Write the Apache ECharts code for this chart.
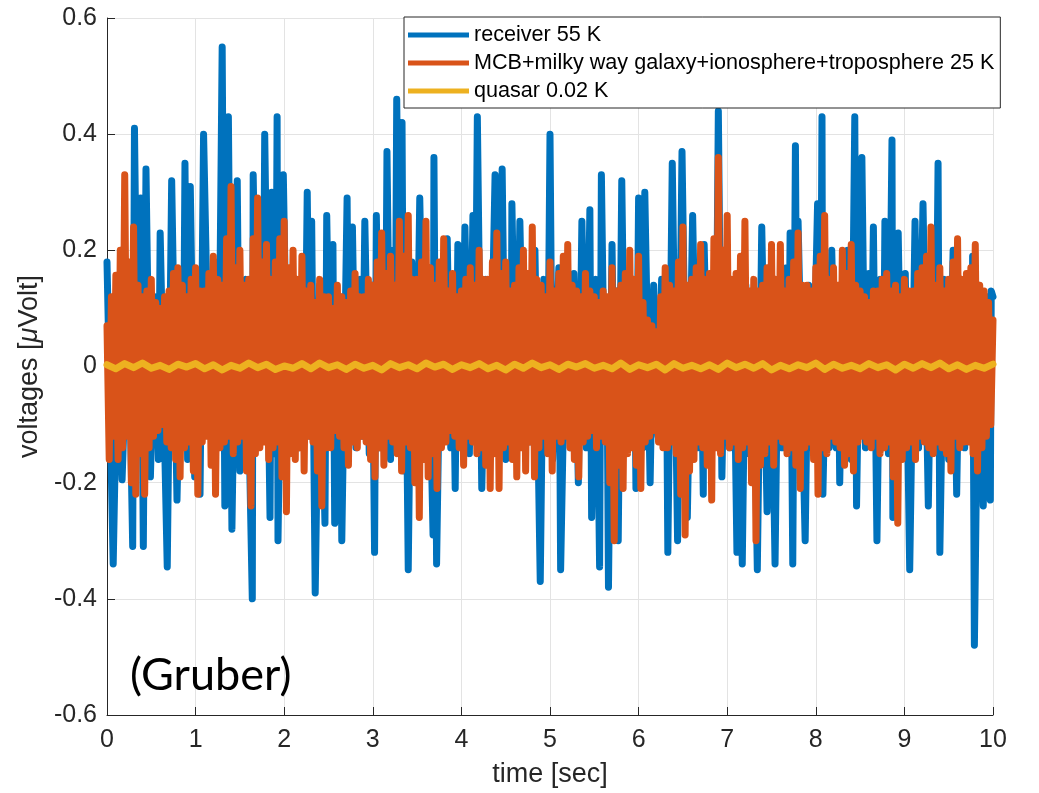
<!DOCTYPE html>
<html>
<head>
<meta charset="utf-8">
<script src="https://cdn.jsdelivr.net/npm/echarts@6/dist/echarts.min.js"></script>
<style>
html,body{margin:0;padding:0;background:#fff;}
#chart{width:1039px;height:793px;}
</style>
</head>
<body>
<div id="chart"></div>
<script>
// ---- data ----
const seriesNames = ['receiver 55 K', 'MCB+milky way galaxy+ionosphere+troposphere 25 K', 'quasar 0.02 K'];
const xTicks = [0,1,2,3,4,5,6,7,8,9,10];
const yTicks = [-0.6,-0.4,-0.2,0,0.2,0.4,0.6];

// receiver (blue): times [s] and voltages of the visible turning points
const blueT = [0.00,0.07,0.12,0.17,0.24,0.29,0.31,0.35,0.38,0.41,0.44,0.49,0.54,0.58,0.60,0.68,0.73,0.79,0.84,0.86,0.88,0.91,0.94,0.99,1.02,1.05,1.09,1.16,1.22,1.26,1.30,1.33,1.37,1.41,1.47,1.50,1.57,1.64,1.65,1.70,1.73,1.76,1.78,1.84,1.86,1.90,1.92,1.93,1.99,2.04,2.10,2.16,2.21,2.23,2.26,2.29,2.31,2.35,2.40,2.46,2.48,2.52,2.55,2.57,2.63,2.65,2.71,2.73,2.77,2.81,2.86,2.88,2.91,2.96,2.99,3.02,3.04,3.08,3.12,3.14,3.16,3.20,3.23,3.25,3.27,3.31,3.33,3.35,3.37,3.40,3.44,3.49,3.53,3.58,3.62,3.68,3.69,3.72,3.77,3.80,3.84,3.88,3.90,3.93,3.96,4.00,4.04,4.09,4.13,4.15,4.18,4.23,4.28,4.32,4.38,4.41,4.46,4.50,4.54,4.56,4.57,4.62,4.66,4.71,4.74,4.77,4.83,4.89,4.93,4.97,5.00,5.03,5.10,5.12,5.18,5.23,5.27,5.32,5.36,5.41,5.45,5.47,5.52,5.56,5.58,5.62,5.64,5.66,5.70,5.73,5.75,5.77,5.81,5.85,5.88,5.92,5.95,5.97,6.00,6.05,6.07,6.13,6.17,6.22,6.26,6.29,6.31,6.33,6.38,6.44,6.49,6.55,6.61,6.66,6.70,6.73,6.74,6.79,6.83,6.87,6.90,6.94,6.98,7.03,7.07,7.11,7.14,7.17,7.21,7.25,7.29,7.34,7.39,7.45,7.49,7.54,7.58,7.62,7.67,7.69,7.71,7.74,7.77,7.79,7.80,7.88,7.92,7.96,8.02,8.05,8.07,8.08,8.13,8.15,8.18,8.23,8.25,8.27,8.31,8.34,8.36,8.40,8.44,8.46,8.52,8.56,8.60,8.62,8.65,8.69,8.73,8.76,8.78,8.82,8.86,8.87,8.93,8.97,9.01,9.06,9.12,9.16,9.21,9.27,9.31,9.35,9.38,9.40,9.45,9.50,9.55,9.59,9.63,9.68,9.73,9.76,9.77,9.79,9.84,9.89,9.93,9.97,9.98,10.00];
const blueV = [0.18,-0.34,0.06,-0.195,0.12,-0.31,0.41,-0.10,0.29,-0.31,0.34,-0.19,0.12,-0.16,0.23,-0.345,0.32,-0.23,0.14,-0.10,0.35,-0.16,0.31,-0.19,0.10,-0.22,0.40,-0.12,0.18,-0.10,0.55,-0.24,0.43,-0.28,0.32,-0.18,0.15,-0.40,0.33,-0.14,0.22,-0.10,0.40,-0.26,0.30,-0.15,0.43,-0.30,0.33,-0.12,0.15,-0.14,0.12,-0.10,0.30,-0.12,0.25,-0.39,0.14,-0.27,0.26,-0.12,0.21,-0.27,0.12,-0.30,0.29,-0.12,0.24,-0.14,0.15,-0.12,0.25,-0.15,0.14,-0.32,0.26,-0.14,0.16,-0.10,0.37,-0.16,0.20,-0.12,0.46,-0.15,0.42,-0.18,0.10,-0.35,0.18,-0.14,0.29,-0.12,0.15,-0.29,0.36,-0.34,0.16,-0.12,0.22,-0.14,0.12,-0.21,0.21,-0.12,0.24,-0.15,0.26,-0.12,0.43,-0.21,0.15,-0.14,0.33,-0.12,0.34,-0.16,0.14,-0.10,0.28,-0.15,0.25,-0.14,0.15,-0.13,0.20,-0.37,0.15,-0.14,0.40,-0.16,0.17,-0.35,0.14,-0.14,0.16,-0.20,0.25,-0.14,0.27,-0.26,0.15,-0.345,0.33,-0.12,0.10,-0.38,0.21,-0.14,0.13,-0.30,0.32,-0.14,0.15,-0.12,0.14,-0.21,0.29,-0.14,0.30,-0.20,0.14,-0.12,0.15,-0.10,0.12,-0.32,0.35,-0.30,0.37,-0.26,0.26,-0.14,0.12,-0.22,0.21,-0.14,0.14,-0.12,0.44,-0.19,0.13,-0.14,0.11,-0.32,0.12,-0.34,0.14,-0.15,0.13,-0.35,0.24,-0.25,0.14,-0.34,0.14,-0.14,0.17,-0.12,0.23,-0.34,0.38,-0.12,0.25,-0.30,0.14,-0.14,0.28,-0.12,0.43,-0.22,0.15,-0.14,0.20,-0.14,0.12,-0.20,0.15,-0.14,0.20,-0.16,0.43,-0.24,0.36,-0.14,0.16,-0.12,0.24,-0.30,0.15,-0.14,0.25,-0.15,0.39,-0.26,0.23,-0.14,0.16,-0.35,0.25,-0.14,0.28,-0.24,0.16,-0.14,0.35,-0.32,0.15,-0.16,0.20,-0.22,0.15,-0.14,0.14,-0.12,0.19,-0.48,0.14,-0.24,0.12,-0.23,0.13,0.12];

// MCB + galaxy + ionosphere + troposphere (orange)
// upper turning points every 0.05 s (t = 0, 0.05, ... 10) and lower ones in between (t = 0.025, 0.075, ...)
const orangeStep = 0.05;
const orangeUp = [0.07,0.12,0.157,0.20,0.33,0.18,0.24,0.14,0.12,0.13,0.15,0.11,0.10,0.12,0.13,0.16,0.17,0.14,0.12,0.15,0.17,0.13,0.13,0.16,0.19,0.15,0.14,0.22,0.31,0.17,0.20,0.14,0.15,0.22,0.29,0.18,0.21,0.15,0.18,0.22,0.25,0.17,0.20,0.15,0.19,0.13,0.14,0.11,0.15,0.12,0.12,0.10,0.14,0.12,0.11,0.13,0.16,0.12,0.12,0.15,0.14,0.18,0.23,0.16,0.19,0.14,0.25,0.19,0.26,0.15,0.15,0.18,0.25,0.17,0.14,0.18,0.22,0.13,0.16,0.12,0.13,0.15,0.17,0.14,0.20,0.15,0.15,0.18,0.23,0.16,0.18,0.13,0.14,0.17,0.20,0.16,0.24,0.15,0.14,0.12,0.18,0.13,0.16,0.19,0.21,0.14,0.13,0.12,0.16,0.13,0.12,0.11,0.13,0.12,0.17,0.13,0.14,0.16,0.20,0.15,0.19,0.11,0.08,0.07,0.06,0.12,0.17,0.14,0.13,0.18,0.24,0.14,0.15,0.17,0.21,0.15,0.16,0.22,0.36,0.20,0.26,0.15,0.16,0.19,0.25,0.13,0.15,0.13,0.14,0.17,0.21,0.15,0.21,0.13,0.15,0.18,0.23,0.14,0.14,0.13,0.17,0.19,0.26,0.15,0.17,0.14,0.20,0.16,0.21,0.14,0.13,0.12,0.11,0.13,0.13,0.15,0.16,0.13,0.14,0.12,0.15,0.13,0.13,0.16,0.17,0.19,0.24,0.14,0.17,0.13,0.15,0.18,0.22,0.15,0.16,0.17,0.21,0.14,0.13,0.11,0.08];
const orangeDown = [-0.16,-0.12,-0.16,-0.14,-0.12,-0.20,-0.22,-0.15,-0.22,-0.14,-0.12,-0.11,-0.10,-0.13,-0.14,-0.16,-0.19,-0.14,-0.13,-0.18,-0.22,-0.13,-0.12,-0.17,-0.22,-0.14,-0.13,-0.12,-0.15,-0.13,-0.12,-0.18,-0.24,-0.15,-0.14,-0.13,-0.16,-0.14,-0.13,-0.19,-0.25,-0.15,-0.16,-0.14,-0.18,-0.12,-0.13,-0.18,-0.24,-0.14,-0.14,-0.11,-0.12,-0.14,-0.17,-0.13,-0.14,-0.12,-0.13,-0.16,-0.19,-0.14,-0.17,-0.12,-0.13,-0.15,-0.18,-0.13,-0.14,-0.20,-0.26,-0.16,-0.19,-0.15,-0.21,-0.14,-0.13,-0.11,-0.12,-0.14,-0.17,-0.12,-0.13,-0.15,-0.14,-0.17,-0.21,-0.15,-0.21,-0.14,-0.13,-0.16,-0.19,-0.14,-0.18,-0.13,-0.19,-0.14,-0.12,-0.15,-0.18,-0.12,-0.13,-0.12,-0.14,-0.16,-0.19,-0.13,-0.12,-0.11,-0.14,-0.12,-0.13,-0.20,-0.30,-0.17,-0.21,-0.15,-0.14,-0.17,-0.21,-0.13,-0.12,-0.11,-0.13,-0.14,-0.14,-0.13,-0.15,-0.22,-0.29,-0.18,-0.16,-0.13,-0.14,-0.17,-0.23,-0.14,-0.15,-0.12,-0.14,-0.13,-0.16,-0.14,-0.13,-0.20,-0.30,-0.17,-0.15,-0.13,-0.17,-0.12,-0.13,-0.15,-0.14,-0.17,-0.21,-0.14,-0.13,-0.16,-0.22,-0.14,-0.15,-0.12,-0.13,-0.14,-0.17,-0.15,-0.18,-0.13,-0.12,-0.13,-0.14,-0.12,-0.15,-0.14,-0.13,-0.19,-0.27,-0.16,-0.14,-0.13,-0.16,-0.12,-0.13,-0.14,-0.15,-0.13,-0.14,-0.15,-0.18,-0.12,-0.14,-0.13,-0.13,-0.15,-0.18,-0.14,-0.12,-0.10];

// quasar (yellow): one sample every 0.1 s
const quasarStep = 0.1;
const quasarV = [0.003,-0.004,0.005,-0.002,0.006,-0.003,0.002,-0.005,0.004,-0.001,0.005,-0.004,0.003,-0.006,0.002,-0.003,0.006,-0.002,0.004,-0.005,0.001,-0.003,0.005,-0.004,0.006,-0.002,0.003,-0.005,0.004,-0.003,0.002,-0.006,0.005,-0.002,0.003,-0.004,0.006,-0.001,0.004,-0.005,0.003,-0.002,0.005,-0.004,0.002,-0.006,0.004,-0.003,0.006,-0.002,0.003,-0.005,0.004,-0.001,0.005,-0.003,0.002,-0.004,0.006,-0.005,0.003,-0.002,0.004,-0.006,0.005,-0.003,0.002,-0.004,0.003,-0.005,0.006,-0.002,0.004,-0.003,0.005,-0.006,0.002,-0.004,0.003,-0.002,0.006,-0.005,0.004,-0.003,0.002,-0.004,0.005,-0.002,0.003,-0.006,0.004,-0.003,0.005,-0.002,0.006,-0.004,0.003,-0.005,0.002,-0.003,0.004];

// ---- build chart ----
const blueData = blueT.map((t, i) => [t, blueV[i]]);
const orangeData = [];
orangeUp.forEach((v, k) => {
  orangeData.push([+(k * orangeStep).toFixed(3), v]);
  if (k < orangeDown.length) orangeData.push([+(k * orangeStep + orangeStep / 2).toFixed(3), orangeDown[k]]);
});
const quasarData = quasarV.map((v, i) => [+(i * quasarStep).toFixed(2), v]);

const FONT = '"Liberation Sans", Arial, Helvetica, sans-serif';
const chart = echarts.init(document.getElementById('chart'), null, {renderer: 'canvas'});

const lineBase = (name, data, color, z) => ({
  name, type: 'line', data, showSymbol: false, symbol: 'none', z,
  lineStyle: {color, width: 7, cap: 'round', join: 'round'},
  itemStyle: {color}, clip: true, silent: true
});

chart.setOption({
  animation: false,
  backgroundColor: '#ffffff',
  grid: {left: 107, right: 46, top: 18, bottom: 76},
  xAxis: {
    type: 'value', min: xTicks[0], max: xTicks[xTicks.length - 1], interval: 1,
    name: 'time [sec]', nameLocation: 'middle', nameGap: 46,
    nameTextStyle: {fontFamily: FONT, fontSize: 27, color: '#262626'},
    axisLine: {show: true, onZero: false, lineStyle: {color: '#262626', width: 1}},
    axisTick: {show: true, inside: true, length: 8, lineStyle: {color: '#262626'}},
    axisLabel: {fontFamily: FONT, fontSize: 25, color: '#262626', margin: 13},
    splitLine: {show: true, lineStyle: {color: '#e3e3e3', width: 1}}
  },
  yAxis: {
    type: 'value', min: yTicks[0], max: yTicks[yTicks.length - 1], interval: 0.2,
    name: '{a|voltages [}{m|μ}{a|Volt]}', nameLocation: 'middle', nameGap: 52, nameRotate: 90,
    nameTextStyle: {
      fontFamily: FONT, fontSize: 27, color: '#262626',
      rich: {a: {fontFamily: FONT, fontSize: 27, color: '#262626'}, m: {fontFamily: FONT, fontSize: 27, fontStyle: 'italic', color: '#262626'}}
    },
    axisLine: {show: true, onZero: false, lineStyle: {color: '#262626', width: 1}},
    axisTick: {show: true, inside: true, length: 8, lineStyle: {color: '#262626'}},
    axisLabel: {
      fontFamily: FONT, fontSize: 25, color: '#262626', margin: 10,
      formatter: v => Math.abs(v) < 1e-9 ? '0' : v.toFixed(1)
    },
    splitLine: {show: true, lineStyle: {color: '#e3e3e3', width: 1}}
  },
  legend: {
    orient: 'vertical', left: 404, top: 17,
    data: seriesNames,
    icon: 'rect', itemWidth: 61, itemHeight: 5, itemGap: 4,
    padding: [6, 6, 5, 4],
    backgroundColor: '#ffffff', borderColor: '#262626', borderWidth: 1, borderRadius: 0,
    textStyle: {fontFamily: FONT, fontSize: 21.6, color: '#000', lineHeight: 24},
    selectedMode: false
  },
  graphic: [{
    type: 'text', left: 130, top: 653, z: 100,
    style: {text: '(Gruber)', font: '45px Lato, "Open Sans", sans-serif', fill: '#000'}
  }],
  series: [
    lineBase(seriesNames[0], blueData, '#0072BD', 2),
    lineBase(seriesNames[1], orangeData, '#D95319', 3),
    lineBase(seriesNames[2], quasarData, '#EDB120', 4)
  ]
});
</script>
</body>
</html>
